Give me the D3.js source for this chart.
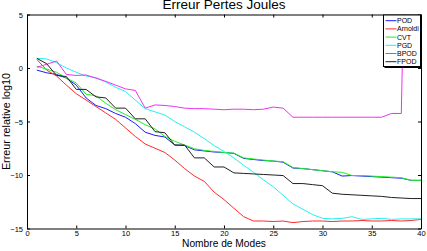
<!DOCTYPE html>
<html>
<head>
<meta charset="utf-8">
<script src="https://cdn.jsdelivr.net/npm/d3@7"></script>
<style>
  body { margin: 0; background: #fff; }
  svg { display: block; font-family: "Liberation Sans", Arial, sans-serif; }
</style>
</head>
<body>
<svg id="chart" width="427" height="251"></svg>
<script>
// modes 1..40
const modes = d3.range(1, 41);

const podValues = [-0.2, -0.45, -0.6, -0.95, -1.6, -2.8, -3.5, -3.8, -4.25, -4.6,
  -5.2, -6.0, -6.3, -6.45, -7.2, -7.25, -7.65, -7.75, -7.85, -7.9,
  -7.98, -8.45, -8.55, -8.65, -8.7, -8.8, -9.35, -9.4, -9.5, -9.6,
  -9.7, -10.1, -10.05, -10.1, -10.15, -10.2, -10.25, -10.3, -10.5, -10.5];

const arnoldiValues = [0.8, -0.2, -0.75, -1.6, -2.4, -3.0, -3.6, -4.2, -4.8, -5.6,
  -6.4, -7.1, -7.5, -7.9, -8.6, -9.4, -10.1, -10.6, -11.6, -12.3,
  -13.1, -13.9, -14.3, -14.3, -14.35, -14.3, -14.45, -14.35, -14.3, -14.3,
  -14.35, -14.3, -14.3, -14.25, -14.3, -14.3, -14.25, -14.3, -14.25, -14.15];

const cvtValues = [0.15, -0.1, -0.4, -0.95, -1.4, -2.45, -2.6, -3.3, -3.9, -4.35,
  -4.8, -5.3, -5.7, -6.4, -6.85, -7.2, -7.55, -7.7, -7.8, -7.9,
  -7.95, -8.4, -8.5, -8.6, -8.7, -8.75, -9.3, -9.4, -9.5, -9.6,
  -9.7, -9.75, -10.05, -10.05, -10.1, -10.15, -10.2, -10.25, -10.5, -10.5];

const pgdValues = [0.9, 0.85, 0.5, 0.0, -0.4, -0.75, -0.9, -1.3, -1.8, -2.2,
  -3.0, -3.8, -4.1, -4.4, -5.0, -5.5, -6.0, -6.6, -7.25, -7.8,
  -8.4, -9.1, -9.75, -10.45, -11.1, -11.9, -12.7, -13.2, -13.7, -14.05,
  -14.1, -14.05, -13.9, -14.15, -14.1, -14.05, -14.15, -14.1, -14.1, -14.1];

const bpodValues = [0.07, 0.35, 0.65, -0.6, -0.7, -0.65, -0.95, -1.25, -1.6, -1.95,
  -2.1, -3.75, -3.45, -3.5, -3.6, -3.75, -3.8, -3.8, -3.85, -3.9,
  -3.85, -3.85, -3.9, -3.85, -3.65, -3.75, -4.6, -4.6, -4.6, -4.6,
  -4.6, -4.6, -4.6, -4.6, -4.6, -4.6, -4.25, -4.25, 40, 40];

const fpodValues = [0.9, 0.4, -0.7, -0.8, -2.0, -2.0, -2.7, -2.8, -3.75, -3.75,
  -4.75, -4.75, -5.95, -6.05, -7.2, -7.2, -8.4, -8.4, -9.25, -9.25,
  -9.8, -9.85, -9.9, -9.95, -10.0, -10.05, -10.8, -10.8, -10.9, -11.0,
  -11.7, -11.8, -11.85, -11.9, -11.95, -12.0, -12.1, -12.15, -12.2, -12.2];

const seriesNames = ["POD", "Arnoldi", "CVT", "PGD", "BPOD", "FPOD"];
const seriesColors = ["#1a1aff", "#ff2a2a", "#22ee22", "#22f0f0", "#f030f0", "#202020"];
const seriesValues = [podValues, arnoldiValues, cvtValues, pgdValues, bpodValues, fpodValues];

const xTicks = [0, 5, 10, 15, 20, 25, 30, 35, 40];
const yTicks = [5, 0, -5, -10, -15];

const margin = { left: 27, right: 6, top: 14.5, bottom: 22.5 };
const width = 427, height = 251;

const svg = d3.select("#chart");

const x = d3.scaleLinear().domain([0, 40]).range([margin.left, width - margin.right]);
const y = d3.scaleLinear().domain([-15, 5]).range([height - margin.bottom, margin.top]);

svg.append("defs").append("clipPath").attr("id", "plot-clip")
  .append("rect")
  .attr("x", x(0)).attr("y", y(5))
  .attr("width", x(40) - x(0)).attr("height", y(-15) - y(5));

// lines
const line = d3.line().x((d, i) => x(modes[i])).y(d => y(d));
const linesG = svg.append("g").attr("clip-path", "url(#plot-clip)");
seriesValues.forEach((vals, i) => {
  linesG.append("path")
    .datum(vals)
    .attr("fill", "none")
    .attr("stroke", seriesColors[i])
    .attr("stroke-width", 1)
    .attr("d", line);
});

// axes - ticks inward, box on all sides
const tickLen = 3;
const axisFont = 7.5;

const xAxisBottom = svg.append("g")
  .attr("transform", `translate(0,${y(-15)})`)
  .call(d3.axisBottom(x).tickValues(xTicks).tickSizeInner(-tickLen).tickSizeOuter(0).tickPadding(4));
const xAxisTop = svg.append("g")
  .attr("transform", `translate(0,${y(5)})`)
  .call(d3.axisTop(x).tickValues(xTicks).tickSizeInner(-tickLen).tickSizeOuter(0).tickFormat(""));
const yAxisLeft = svg.append("g")
  .attr("transform", `translate(${x(0)},0)`)
  .call(d3.axisLeft(y).tickValues(yTicks).tickSizeInner(-tickLen).tickSizeOuter(0).tickPadding(5));
const yAxisRight = svg.append("g")
  .attr("transform", `translate(${x(40)},0)`)
  .call(d3.axisRight(y).tickValues(yTicks).tickSizeInner(-tickLen).tickSizeOuter(0).tickFormat(""));

[xAxisBottom, xAxisTop, yAxisLeft, yAxisRight].forEach(g => {
  g.select(".domain").attr("stroke", "#000").attr("stroke-width", 1);
  g.selectAll(".tick line").attr("stroke", "#000");
  g.selectAll("text").attr("font-size", axisFont).attr("fill", "#000")
    .attr("font-family", "Liberation Sans, Arial, sans-serif");
});
yAxisLeft.selectAll("text").attr("dy", "0.35em").attr("x", -4);
xAxisBottom.selectAll("text").attr("dy", "0.4em");

// title and labels
svg.append("text")
  .attr("x", 224).attr("y", 9)
  .attr("text-anchor", "middle")
  .attr("font-size", 13.5)
  .text("Erreur Pertes Joules");

svg.append("text")
  .attr("x", 224).attr("y", 247)
  .attr("text-anchor", "middle")
  .attr("font-size", 10.2)
  .text("Nombre de Modes");

svg.append("text")
  .attr("transform", `translate(10,${(y(5) + y(-15)) / 2}) rotate(-90)`)
  .attr("text-anchor", "middle")
  .attr("font-size", 10.8)
  .text("Erreur relative log10");

// legend
const lx = 383.5, ly = 15, lw = 37, lh = 51.5, rowH = 8.2;
const legend = svg.append("g");
legend.append("rect")
  .attr("x", lx).attr("y", ly).attr("width", lw).attr("height", lh)
  .attr("fill", "#fff").attr("stroke", "#000").attr("stroke-width", 1);
legend.append("path")
  .attr("d", `M${lx + 1},${ly + lh + 0.8}H${lx + lw + 0.8}V${ly + 1}`)
  .attr("fill", "none").attr("stroke", "#000").attr("stroke-width", 1.2);
seriesNames.forEach((name, i) => {
  const yy = ly + 5.7 + i * rowH;
  legend.append("line")
    .attr("x1", lx + 2).attr("x2", lx + 13)
    .attr("y1", yy).attr("y2", yy)
    .attr("stroke", seriesColors[i]).attr("stroke-width", 1);
  legend.append("text")
    .attr("x", lx + 13.5).attr("y", yy)
    .attr("dy", "0.35em")
    .attr("font-size", 7)
    .text(name);
});
</script>
</body>
</html>
